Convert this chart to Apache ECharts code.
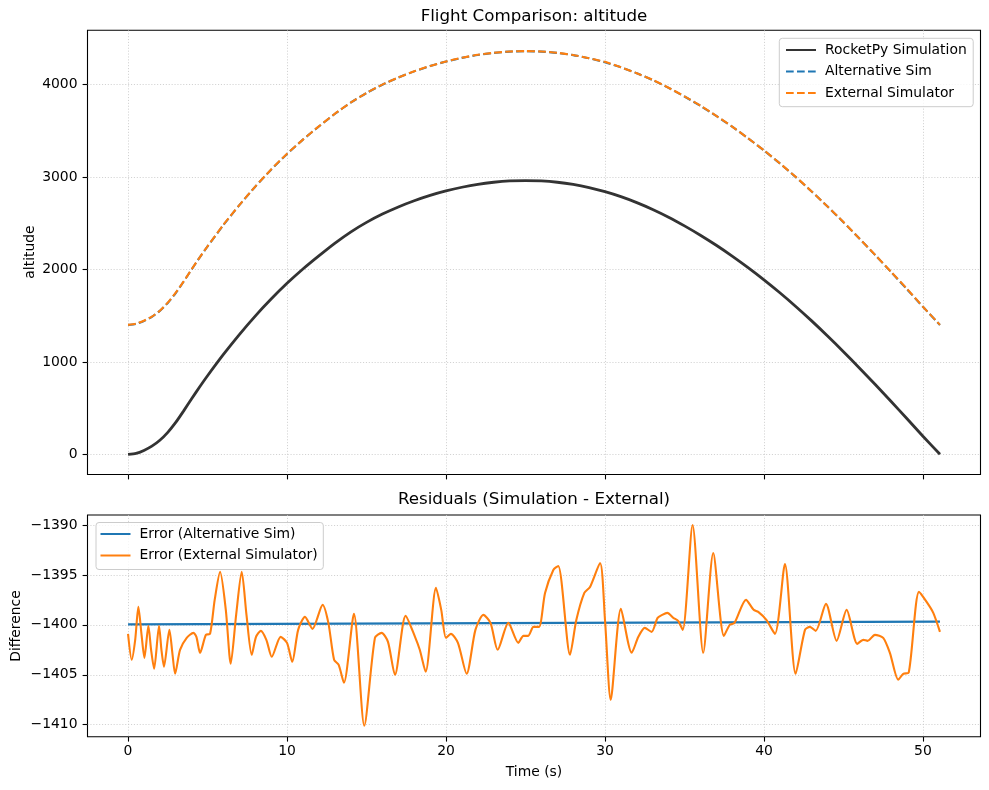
<!DOCTYPE html>
<html><head><meta charset="utf-8">
<script src="https://cdn.jsdelivr.net/npm/echarts@6/dist/echarts.min.js"></script>
<style>html,body{margin:0;padding:0;background:#fff}#c{width:989px;height:790px}</style>
</head><body><div id="c"></div>
<script>
// ---- Top panel: altitude vs time ----
const altTime = [0,0.5,1,1.5,2,2.5,3,3.5,4,4.5,5,6,7,8,9,10,11,12,13,14,15,16,17,18,19,20,21,22,23,24,25,26,27,28,29,30,31,32,33,34,35,36,37,38,39,40,41,42,43,44,45,46,47,48,49,50,51.07];
const rocketpyAltitude = [0,10,42,88,152,238,345,470,601,728,850,1081,1296,1496,1680,1850,2005,2147,2283,2405,2510,2600,2677,2744,2802,2850,2890,2922,2944,2958,2962,2958,2944,2920,2886,2842,2788,2724,2650,2566,2472,2371,2262,2145,2020,1888,1748,1600,1444,1281,1111,935,755,572,385,196,0];
const alternativeAltitude = [1400,1410,1442,1488,1552,1638,1745,1870,2001,2128,2250,2481,2696,2896,3080,3250,3405,3547,3683,3805,3910,4000,4077,4144,4202,4250,4290,4322,4344,4358,4362,4358,4344,4320,4286,4242,4188,4124,4050,3966,3872,3771,3662,3545,3420,3288,3148,3000,2844,2681,2511,2335,2155,1972,1785,1596,1400];
const externalAltitude = [1401,1413,1446,1490,1553,1641,1749,1871,2002,2129,2251,2484,2697,2897,3082,3252,3405,3549,3684,3805,3911,4001,4078,4145,4203,4251,4291,4323,4345,4359,4363,4359,4345,4321,4287,4247,4189,4124,4052,3967,3873,3774,3663,3546,3420,3290,3149,3002,2845,2681,2513,2336,2156,1973,1790,1597,1401];

// ---- Bottom panel: residuals ----
const errTime = [0.00,0.23,0.45,0.65,0.85,1.03,1.28,1.45,1.64,1.95,2.10,2.26,2.60,2.80,2.96,3.27,3.69,4.11,4.30,4.53,4.90,5.16,5.45,5.79,6.15,6.46,6.80,7.15,7.45,7.78,8.05,8.35,8.70,9.04,9.60,10.00,10.33,10.70,11.13,11.60,12.24,12.60,12.96,13.25,13.58,14.21,14.86,15.53,15.95,16.35,16.79,17.46,18.05,18.35,18.72,19.37,19.70,20.00,20.31,20.75,21.30,21.85,22.35,22.80,23.25,23.92,24.55,24.87,25.17,25.50,25.85,26.23,26.75,27.06,27.80,28.20,28.70,29.06,29.69,30.00,30.36,31.00,31.68,32.10,32.50,32.93,33.31,33.60,33.92,34.30,34.60,34.89,35.51,36.18,36.81,37.48,37.85,38.15,38.87,39.35,39.64,40.15,40.69,41.32,41.99,42.58,42.89,43.25,43.90,44.57,45.20,45.87,46.25,46.52,46.98,47.50,47.92,48.45,48.76,49.10,49.75,50.23,50.65,51.07];
const errExternal = [-1400.9,-1403.5,-1401.5,-1398.2,-1401.0,-1403.3,-1400.1,-1402.5,-1404.4,-1400.1,-1402.5,-1404.2,-1400.5,-1403.0,-1404.9,-1402.5,-1401.3,-1400.8,-1401.2,-1402.8,-1401.0,-1400.9,-1397.5,-1394.7,-1398.5,-1403.9,-1399.0,-1394.7,-1399.0,-1403.0,-1401.2,-1400.6,-1401.5,-1403.2,-1401.2,-1401.8,-1403.7,-1400.5,-1399.2,-1400.4,-1398.0,-1399.8,-1403.5,-1404.0,-1405.8,-1398.9,-1410.1,-1401.3,-1400.8,-1401.7,-1405.0,-1399.1,-1401.2,-1402.5,-1404.7,-1396.3,-1398.5,-1401.3,-1400.9,-1401.8,-1404.9,-1400.5,-1399.0,-1399.8,-1402.5,-1399.8,-1401.8,-1401.1,-1401.1,-1400.2,-1400.2,-1396.8,-1394.5,-1394.1,-1403.0,-1399.5,-1396.8,-1396.2,-1393.8,-1399.5,-1407.5,-1398.4,-1402.8,-1401.2,-1400.3,-1400.7,-1399.3,-1399.0,-1398.8,-1399.3,-1399.6,-1400.5,-1390.0,-1402.8,-1392.8,-1401.1,-1400.0,-1399.8,-1397.5,-1398.5,-1398.7,-1399.5,-1400.9,-1393.9,-1404.9,-1400.5,-1400.2,-1400.6,-1397.9,-1401.6,-1398.5,-1401.9,-1401.5,-1401.6,-1401.0,-1401.3,-1402.8,-1405.5,-1404.9,-1404.8,-1396.7,-1397.7,-1398.8,-1400.7];
const errAltTime = [0, 51.07];
const errAlternative = [-1399.95, -1399.68];

// ---- Ticks ----
const xTicks = [0, 10, 20, 30, 40, 50];
const topYTicks = [0, 1000, 2000, 3000, 4000];
const bottomYTicks = [-1410, -1405, -1400, -1395, -1390];

const FONT = 'DejaVu Sans';
const pairs = (xs, ys) => xs.map((x, i) => [x, ys[i]]);
const fmt = v => String(v).replace('-', '\u2212');
const splitLine = {show: true, lineStyle: {color: '#c6c6c6', width: 0.8, type: [1.1, 1.8]}};
const tick = vals => ({show: true, inside: false, length: 4.9, customValues: vals, lineStyle: {color: '#000', width: 1.1}});
const lbl = (vals, show) => ({show: show, customValues: vals, fontFamily: FONT, fontSize: 13.9, color: '#000', margin: 8, formatter: fmt});

const chart = echarts.init(document.getElementById('c'), null, {renderer: 'canvas'});
const legendBase = {
  orient: 'vertical', itemWidth: 30, itemHeight: 14, itemGap: 7.5,
  borderColor: '#cccccc', borderWidth: 1, borderRadius: 3,
  backgroundColor: 'rgba(255,255,255,0.8)', selectedMode: false,
  itemStyle: {opacity: 0, borderWidth: 0},
  textStyle: {fontFamily: FONT, fontSize: 13.9, color: '#000', padding: [0, 0, 0, 4]}
};
chart.setOption({
  animation: false,
  backgroundColor: '#fff',
  grid: [
    {left: 87.5, right: 8.5, top: 30.3, height: 444.2, show: true, borderColor: '#000', borderWidth: 1.1},
    {left: 87.5, right: 8.5, top: 515, height: 221.7, show: true, borderColor: '#000', borderWidth: 1.1}
  ],
  xAxis: [
    {gridIndex: 0, type: 'value', min: -2.55, max: 53.62, axisLine: {show: false, onZero: false},
     axisTick: tick(xTicks), axisLabel: lbl(xTicks, false), splitLine: splitLine},
    {gridIndex: 1, type: 'value', min: -2.55, max: 53.62, axisLine: {show: false, onZero: false},
     axisTick: tick(xTicks), axisLabel: lbl(xTicks, true), splitLine: splitLine}
  ],
  yAxis: [
    {gridIndex: 0, type: 'value', min: -218.5, max: 4588.5, axisLine: {show: false, onZero: false},
     axisTick: tick(topYTicks), axisLabel: Object.assign(lbl(topYTicks, true), {margin: 10}), splitLine: splitLine},
    {gridIndex: 1, type: 'value', min: -1411.2, max: -1389.0, axisLine: {show: false, onZero: false},
     axisTick: tick(bottomYTicks), axisLabel: Object.assign(lbl(bottomYTicks, true), {margin: 10}), splitLine: splitLine}
  ],
  legend: [
    Object.assign({}, legendBase, {data: ['RocketPy Simulation', 'Alternative Sim', 'External Simulator'],
      left: 779.3, top: 38.3, padding: [4.7, 6.5, 6.7, 5.7]}),
    Object.assign({}, legendBase, {data: ['Error (Alternative Sim)', 'Error (External Simulator)'],
      left: 96, top: 522.5, padding: [4.5, 5.6, 7, 3.5]})
  ],
  series: [
    {name: 'RocketPy Simulation', type: 'line', xAxisIndex: 0, yAxisIndex: 0, symbol: 'none', smooth: 0.2,
     data: pairs(altTime, rocketpyAltitude), lineStyle: {color: '#333333', width: 2.8}, itemStyle: {color: '#333333'}},
    {name: 'Alternative Sim', type: 'line', xAxisIndex: 0, yAxisIndex: 0, symbol: 'none', smooth: 0.2,
     data: pairs(altTime, alternativeAltitude), lineStyle: {color: '#1f77b4', width: 2.1, type: [7.7, 3.3]}, itemStyle: {color: '#1f77b4'}},
    {name: 'External Simulator', type: 'line', xAxisIndex: 0, yAxisIndex: 0, symbol: 'none', smooth: 0.2,
     data: pairs(altTime, externalAltitude), lineStyle: {color: '#ff7f0e', width: 2.1, type: [7.7, 3.3]}, itemStyle: {color: '#ff7f0e'}},
    {name: 'Error (Alternative Sim)', type: 'line', xAxisIndex: 1, yAxisIndex: 1, symbol: 'none',
     data: pairs(errAltTime, errAlternative), lineStyle: {color: '#1f77b4', width: 2.1}, itemStyle: {color: '#1f77b4'}},
    {name: 'Error (External Simulator)', type: 'line', xAxisIndex: 1, yAxisIndex: 1, symbol: 'none', smooth: 0.25,
     data: pairs(errTime, errExternal), lineStyle: {color: '#ff7f0e', width: 2.1}, itemStyle: {color: '#ff7f0e'}}
  ],
  graphic: [
    {type: 'text', x: 534, y: 17, style: {text: 'Flight Comparison: altitude', fontFamily: FONT, fontSize: 16.7, fill: '#000', align: 'center', verticalAlign: 'middle'}},
    {type: 'text', x: 534, y: 500, style: {text: 'Residuals (Simulation - External)', fontFamily: FONT, fontSize: 16.7, fill: '#000', align: 'center', verticalAlign: 'middle'}},
    {type: 'text', x: 534, y: 772, style: {text: 'Time (s)', fontFamily: FONT, fontSize: 13.9, fill: '#000', align: 'center', verticalAlign: 'middle'}},
    {type: 'text', x: 30, y: 252, rotation: Math.PI / 2, style: {text: 'altitude', fontFamily: FONT, fontSize: 13.9, fill: '#000', align: 'center', verticalAlign: 'middle'}},
    {type: 'text', x: 16, y: 626, rotation: Math.PI / 2, style: {text: 'Difference', fontFamily: FONT, fontSize: 13.9, fill: '#000', align: 'center', verticalAlign: 'middle'}}
  ]
});
</script>
</body></html>
